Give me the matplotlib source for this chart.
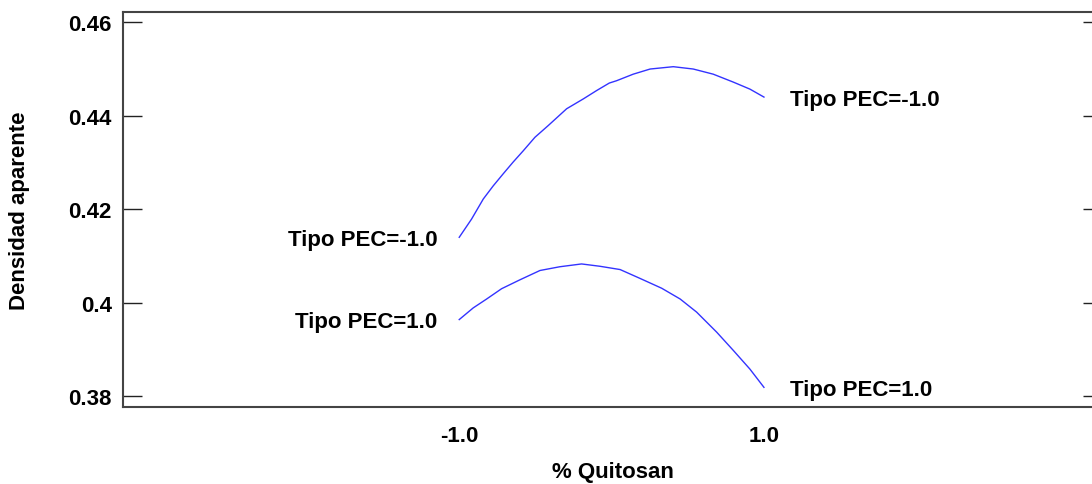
import matplotlib
matplotlib.use("Agg")
from matplotlib import pyplot as plt

plt.rcParams['font.family'] = ['Liberation Sans', 'DejaVu Sans']
plt.rcParams['font.weight'] = 'bold'

# Curva Tipo PEC=-1.0
x_neg = [-1.0, -0.919, -0.842, -0.777, -0.711, -0.646, -0.580, -0.503, -0.416, -0.295,
         -0.186, -0.098, -0.015, 0.033, 0.142, 0.253, 0.405, 0.536, 0.667, 0.799, 0.908, 1.0]
y_neg = [0.4140, 0.4179, 0.4222, 0.4250, 0.4276, 0.4301, 0.4325, 0.4354, 0.4379, 0.4415,
         0.4436, 0.4454, 0.4470, 0.4475, 0.4489, 0.4500, 0.4505, 0.4500, 0.4489, 0.4472, 0.4457, 0.4440]

# Curva Tipo PEC=1.0
x_pos = [-1.0, -0.908, -0.820, -0.722, -0.602, -0.470, -0.340, -0.197, -0.076, 0.056,
         0.187, 0.329, 0.450, 0.558, 0.690, 0.799, 0.908, 1.0]
y_pos = [0.3964, 0.3989, 0.4008, 0.4030, 0.4049, 0.4069, 0.4077, 0.4083, 0.4078, 0.4071,
         0.4052, 0.4031, 0.4008, 0.3980, 0.3937, 0.3898, 0.3858, 0.3819]

label_neg = 'Tipo PEC=-1.0'
label_pos = 'Tipo PEC=1.0'

x_ticks = [-1.0, 1.0]
x_ticklabels = ['-1.0', '1.0']
y_ticks = [0.38, 0.40, 0.42, 0.44, 0.46]
y_ticklabels = ['0.38', '0.4', '0.42', '0.44', '0.46']

fig = plt.figure(figsize=(10.92, 4.85), dpi=100)
ax = fig.add_axes([0.1126, 0.1588, 0.8966, 0.8144])

ax.plot(x_neg, y_neg, color='#3333ff', lw=1.0)
ax.plot(x_pos, y_pos, color='#3333ff', lw=1.0)

fs = 16
for xs, ys, lab in [(x_neg, y_neg, label_neg), (x_pos, y_pos, label_pos)]:
    ax.annotate(lab, (xs[0], ys[0]), xytext=(-22, -2), textcoords='offset pixels',
                ha='right', va='center', fontsize=fs, fontweight='bold')
    ax.annotate(lab, (xs[-1], ys[-1]), xytext=(26, -2), textcoords='offset pixels',
                ha='left', va='center', fontsize=fs, fontweight='bold')

ax.set_xlim(-3.207, 3.219)
ax.set_ylim(0.3777, 0.4622)
ax.set_xticks(x_ticks)
ax.set_xticklabels(x_ticklabels)
ax.set_yticks(y_ticks)
ax.set_yticklabels(y_ticklabels)

ax.tick_params(axis='y', direction='in', length=14, width=1, color='#222222',
               pad=8, labelsize=fs, right=True)
ax.tick_params(axis='x', length=0, pad=13, labelsize=fs)

for sp in ax.spines.values():
    sp.set_color('#444444')
    sp.set_linewidth(1.5)

ax.set_xlabel('% Quitosan', fontsize=fs, fontweight='bold', labelpad=11)
ax.set_ylabel('Densidad aparente', fontsize=fs, fontweight='bold', labelpad=28)

plt.savefig('out.png', dpi=100)
